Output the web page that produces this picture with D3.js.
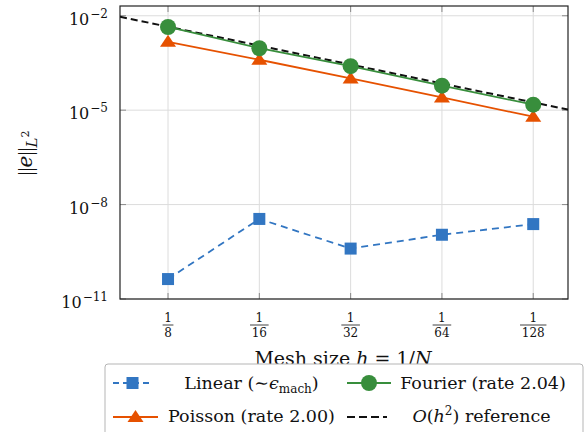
<!DOCTYPE html>
<html>
<head>
<meta charset="utf-8">
<script src="https://cdn.jsdelivr.net/npm/d3@7"></script>
<style>
  body { margin: 0; background: #fff; }
  text { font-family: "DejaVu Serif", "Liberation Serif", serif; fill: #111; }
</style>
</head>
<body>
<svg id="chart" width="588" height="432"></svg>
<script>
// Mesh sizes h = 1/N and their labels
var meshN = [8, 16, 32, 64, 128];
var meshH = [1 / 8, 1 / 16, 1 / 32, 1 / 64, 1 / 128];

// L2 errors
var linearErr = [4.3e-11, 3.5e-9, 4.0e-10, 1.1e-9, 2.4e-9];
var fourierErr = [4.4e-3, 9.3e-4, 2.5e-4, 6.0e-5, 1.5e-5];
var poissonErr = [1.49e-3, 4.0e-4, 1.02e-4, 2.54e-5, 6.2e-6];

// O(h^2) reference line, spanning the whole axis
var refH = [0.18, 0.006];
var refErr = [9.3e-3, 1.04e-5];

// y tick exponents
var yTickExp = [-2, -5, -8, -11];

var colors = { linear: "#3276c2", fourier: "#388e3c", poisson: "#e65100", ref: "#111" };

var svg = d3.select("#chart");

var margin = { top: 6, right: 20, bottom: 133, left: 120 },
    width = 588 - margin.left - margin.right,
    height = 432 - margin.top - margin.bottom;

var g = svg.append("g")
    .attr("transform", "translate(" + margin.left + "," + margin.top + ")");

// Scales
var x = d3.scaleLog()
    .domain([0.18, 0.006])
    .range([0, width]);

var y = d3.scaleLog()
    .domain([1e-11, Math.pow(10, -1.69)])
    .range([height, 0]);

// clip path for the plot area
svg.append("defs").append("clipPath")
    .attr("id", "clip")
    .append("rect")
    .attr("width", width)
    .attr("height", height);

// Grid lines
var grid = g.append("g").attr("class", "grid");
grid.selectAll(".vgrid")
    .data(meshH)
    .enter().append("line")
    .attr("x1", d => x(d)).attr("x2", d => x(d))
    .attr("y1", 0).attr("y2", height)
    .style("stroke", "#dcdcdc").style("stroke-width", 1);
grid.selectAll(".hgrid")
    .data(yTickExp)
    .enter().append("line")
    .attr("x1", 0).attr("x2", width)
    .attr("y1", d => y(Math.pow(10, d))).attr("y2", d => y(Math.pow(10, d)))
    .style("stroke", "#dcdcdc").style("stroke-width", 1);

// Inward tick marks on all four sides
var ticks = g.append("g").style("stroke", "#8a8a8a").style("stroke-width", 1);
meshH.forEach(function(h) {
    ticks.append("line").attr("x1", x(h)).attr("x2", x(h)).attr("y1", height).attr("y2", height - 6);
    ticks.append("line").attr("x1", x(h)).attr("x2", x(h)).attr("y1", 0).attr("y2", 6);
});
yTickExp.forEach(function(e) {
    var yy = y(Math.pow(10, e));
    ticks.append("line").attr("x1", 0).attr("x2", 6).attr("y1", yy).attr("y2", yy);
    ticks.append("line").attr("x1", width).attr("x2", width - 6).attr("y1", yy).attr("y2", yy);
});

// Frame
g.append("rect")
    .attr("width", width)
    .attr("height", height)
    .style("fill", "none")
    .style("stroke", "#222")
    .style("stroke-width", 1.2);

// Y tick labels 10^{e}
var yLabels = g.selectAll(".ylab")
    .data(yTickExp)
    .enter().append("text")
    .attr("class", "ylab")
    .attr("x", -12)
    .attr("y", d => y(Math.pow(10, d)) + 9)
    .style("text-anchor", "end")
    .style("font-size", "16px");
yLabels.append("tspan").text("10");
yLabels.append("tspan")
    .attr("dx", 1)
    .attr("dy", -7)
    .style("font-size", "12px")
    .text(d => "\u2212" + Math.abs(d));

// X tick labels as stacked fractions
var xLabels = g.selectAll(".xlab")
    .data(meshN)
    .enter().append("g")
    .attr("class", "xlab")
    .attr("transform", (d, i) => "translate(" + x(meshH[i]) + "," + (height + 24) + ")");
xLabels.append("text")
    .attr("y", -1)
    .style("text-anchor", "middle")
    .style("font-size", "12px")
    .text("1");
xLabels.append("line")
    .attr("x1", d => -String(d).length * 3.9 - 1.5)
    .attr("x2", d => String(d).length * 3.9 + 1.5)
    .attr("y1", 2).attr("y2", 2)
    .style("stroke", "#111").style("stroke-width", 0.8);
xLabels.append("text")
    .attr("y", 13.5)
    .style("text-anchor", "middle")
    .style("font-size", "12px")
    .text(d => d);

// X axis label
var xTitle = g.append("text")
    .attr("x", 343 - margin.left)
    .attr("y", height + 66)
    .style("text-anchor", "middle")
    .style("font-size", "19px");
xTitle.append("tspan").text("Mesh size ");
xTitle.append("tspan").style("font-style", "italic").text("h");
xTitle.append("tspan").text(" = 1/");
xTitle.append("tspan").style("font-style", "italic").text("N");

// Y axis label ||e||_{L^2}
var yTitle = svg.append("text")
    .attr("transform", "translate(32,153) rotate(-90)")
    .style("text-anchor", "middle")
    .style("font-size", "20px");
yTitle.append("tspan").style("font-family", "Liberation Serif").text("||");
yTitle.append("tspan").style("font-style", "italic").text("e");
yTitle.append("tspan").style("font-family", "Liberation Serif").text("||");
yTitle.append("tspan").attr("dy", 5).style("font-size", "15px").style("font-style", "italic").text("L");
yTitle.append("tspan").attr("dy", -8).style("font-size", "11px").text("2");

// Lines and markers
var plot = g.append("g").attr("clip-path", "url(#clip)");

var line = d3.line()
    .x(d => x(d[0]))
    .y(d => y(d[1]));

plot.append("path")
    .datum(d3.zip(refH, refErr))
    .attr("d", line)
    .style("fill", "none")
    .style("stroke", colors.ref)
    .style("stroke-width", 2)
    .style("stroke-dasharray", "7,4");

plot.append("path")
    .datum(d3.zip(meshH, fourierErr))
    .attr("d", line)
    .style("fill", "none")
    .style("stroke", colors.fourier)
    .style("stroke-width", 1.8);

plot.append("path")
    .datum(d3.zip(meshH, poissonErr))
    .attr("d", line)
    .style("fill", "none")
    .style("stroke", colors.poisson)
    .style("stroke-width", 1.8);

plot.append("path")
    .datum(d3.zip(meshH, linearErr))
    .attr("d", line)
    .style("fill", "none")
    .style("stroke", colors.linear)
    .style("stroke-width", 1.8)
    .style("stroke-dasharray", "7,5");

// marker shapes
var triPath = "M0,-7L8,5L-8,5Z";

g.selectAll(".sq")
    .data(d3.zip(meshH, linearErr))
    .enter().append("rect")
    .attr("x", d => x(d[0]) - 6)
    .attr("y", d => y(d[1]) - 6)
    .attr("width", 12).attr("height", 12)
    .style("fill", colors.linear);

g.selectAll(".tri")
    .data(d3.zip(meshH, poissonErr))
    .enter().append("path")
    .attr("d", triPath)
    .attr("transform", d => "translate(" + x(d[0]) + "," + y(d[1]) + ")")
    .style("fill", colors.poisson);

g.selectAll(".dot")
    .data(d3.zip(meshH, fourierErr))
    .enter().append("circle")
    .attr("cx", d => x(d[0]))
    .attr("cy", d => y(d[1]))
    .attr("r", 8)
    .style("fill", colors.fourier);

// Legend
var legend = svg.append("g");
legend.append("rect")
    .attr("x", 105).attr("y", 364)
    .attr("width", 478).attr("height", 90)
    .attr("rx", 3)
    .style("fill", "#fff")
    .style("stroke", "#b5b5b5")
    .style("stroke-width", 1);

function legendEntry(x1, x2, yy, color, dash, marker) {
    legend.append("line")
        .attr("x1", x1).attr("x2", x2)
        .attr("y1", yy).attr("y2", yy)
        .style("stroke", color)
        .style("stroke-width", dash ? 2 : 1.8)
        .style("stroke-dasharray", dash);
    var cx = (x1 + x2) / 2;
    if (marker === "square") {
        legend.append("rect").attr("x", cx - 6).attr("y", yy - 6).attr("width", 12).attr("height", 12).style("fill", color);
    } else if (marker === "circle") {
        legend.append("circle").attr("cx", cx).attr("cy", yy).attr("r", 8).style("fill", color);
    } else if (marker === "triangle") {
        legend.append("path").attr("d", triPath).attr("transform", "translate(" + cx + "," + yy + ")").style("fill", color);
    }
}

legendEntry(113, 152, 383, colors.linear, "6,4", "square");
legendEntry(347, 391, 383, colors.fourier, null, "circle");
legendEntry(113, 158, 417, colors.poisson, null, "triangle");
legendEntry(347, 387, 417, colors.ref, "8,4", null);

var fs = "17.5px";
var t1 = legend.append("text").attr("x", 251.5).attr("y", 389).style("text-anchor", "middle").style("font-size", fs);
t1.append("tspan").text("Linear (\u223C");
t1.append("tspan").style("font-style", "italic").text("\u03F5");
t1.append("tspan").attr("dy", 4).style("font-size", "12px").text("mach");
t1.append("tspan").attr("dy", -4).text(")");

legend.append("text").attr("x", 483).attr("y", 389).style("text-anchor", "middle").style("font-size", fs)
    .text("Fourier (rate 2.04)");

legend.append("text").attr("x", 251.5).attr("y", 422).style("text-anchor", "middle").style("font-size", fs)
    .text("Poisson (rate 2.00)");

var t4 = legend.append("text").attr("x", 481.5).attr("y", 422).style("text-anchor", "middle").style("font-size", fs);
t4.append("tspan").style("font-style", "italic").text("O");
t4.append("tspan").text("(");
t4.append("tspan").style("font-style", "italic").text("h");
t4.append("tspan").attr("dy", -7).style("font-size", "12px").text("2");
t4.append("tspan").attr("dy", 7).text(") reference");
</script>
</body>
</html>
